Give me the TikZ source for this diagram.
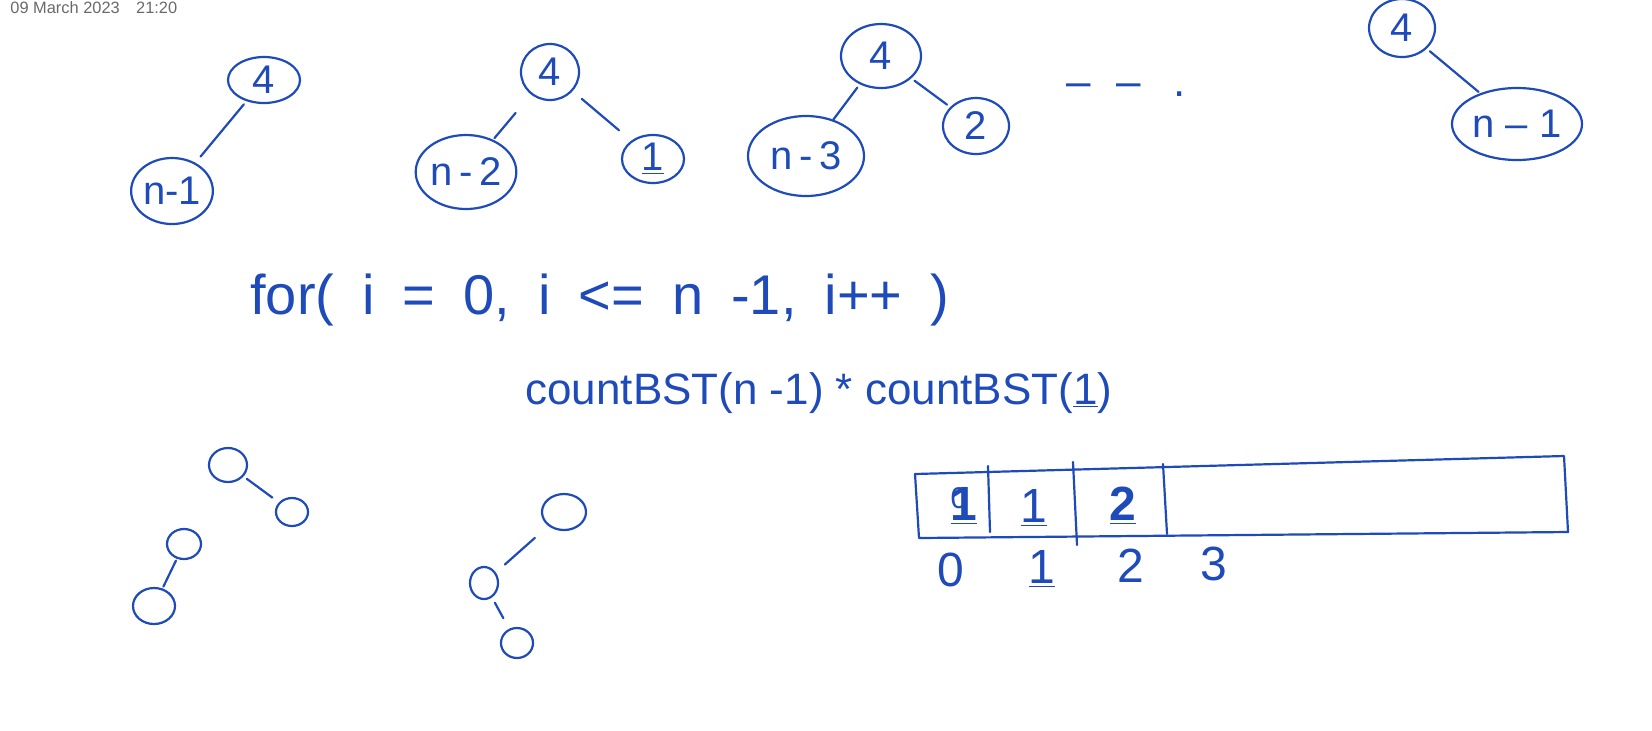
\documentclass[tikz,border=0pt]{standalone}
\usepackage{fontspec}
\setmainfont{Liberation Sans}
\usetikzlibrary{shapes.geometric}
\definecolor{tinta}{RGB}{30,75,185}
\definecolor{sello}{RGB}{105,105,105}
\newcommand{\subr}[1]{\underline{#1}}
\begin{document}
\begin{tikzpicture}[x=0.5pt, y=-0.5pt,
    nodo/.style 2 args={ellipse, draw=tinta, line width=1.1pt, text=tinta, inner sep=0pt,
        minimum width=#1pt, minimum height=#2pt, font=\fontsize{20}{22}\selectfont},
    rama/.style={draw=tinta, line width=1.1pt, line cap=round, shorten <=2pt, shorten >=4pt},
    trazo/.style={draw=tinta, line width=1.1pt, line cap=round, line join=round},
    mano/.style={text=tinta, inner sep=0pt, font=\fontsize{#1}{#1}\selectfont},
    mano/.default=22]
    \useasboundingbox (0,0) rectangle (1652,730);

    % Fecha
    \node[anchor=west, inner sep=0pt, text=sello, font=\fontsize{8.2}{9}\selectfont]
        (fecha) at (10,8) {09 March 2023\hspace{1em}21:20};

    % Arbol 1: raiz con hijo izquierdo n-1
    \node[nodo={36}{23}] (r1) at (264,80) {4};
    \node[nodo={40}{33}] (a1) at (172,191) {n-1};
    \draw[rama] (r1) -- (a1);

    % Arbol 2: n-2 y 1
    \node[nodo={29}{28}] (r2) at (550,72) {4};
    \node[nodo={48}{37}] (a2) at (466,172) {n\,-\,2};
    \node[nodo={31}{24}] (b2) at (653,159) {\subr{1}};
    \draw[rama, shorten <=12pt, shorten >=1pt] (r2) -- (a2);
    \draw[rama, shorten <=6pt, shorten >=8pt] (r2) -- (b2);

    % Arbol 3: n-3 y 2
    \node[nodo={40}{32}] (r3) at (881,56) {4};
    \node[nodo={58}{40}] (a3) at (806,156) {n\,-\,3};
    \node[nodo={33}{28}] (b3) at (976,126) {2};
    \draw[rama, shorten >=0pt] (r3) -- (a3);
    \draw[rama, shorten >=2pt] (r3) -- (b3);

    % Puntos suspensivos
    \node[mano, anchor=west] (pts) at (1066,90) {--\hspace{13pt}--\hspace{16pt}.};

    % Arbol 4: hijo derecho n-1
    \node[nodo={33}{29}] (r4) at (1402,28) {4};
    \node[nodo={65}{36}] (a4) at (1517,124) {n -- 1};
    \draw[rama, shorten >=1pt] (r4) -- (a4);

    % Recurrencia
    \node[mano=28, anchor=base west] (bucle) at (250,314)
        {\spaceskip=0.5em for( i = 0, i <= n -1, i++ )};
    \node[mano=22, anchor=base west] (prod) at (525,404) {countBST(n -1) * countBST(\subr{1})};

    % Arboles de dos nodos
    \node[nodo={19}{17}] (ta) at (228,465) {};
    \node[nodo={16}{14}] (tad) at (292,512) {};
    \draw[rama] (ta) -- (tad);
    \node[nodo={17}{15}] (tb) at (184,544) {};
    \node[nodo={21}{18}] (tbi) at (154,606) {};
    \draw[rama, shorten <=1pt, shorten >=1pt] (tb) -- (tbi);

    % Arbol de tres nodos
    \node[nodo={22}{18}] (tc) at (564,512) {};
    \node[nodo={14}{16}] (tci) at (484,583) {};
    \node[nodo={16}{15}] (tcd) at (517,643) {};
    \draw[rama, shorten <=9pt, shorten >=6pt] (tc) -- (tci);
    \draw[rama, shorten <=3pt, shorten >=6pt] (tci) -- (tcd);

    % Arreglo dp
    \coordinate (p1) at (915,474);
    \coordinate (p2) at (1564,456);
    \coordinate (p3) at (1568,532);
    \coordinate (p4) at (919,538);
    \draw[trazo] (p1) -- (p2) -- (p3) -- (p4) -- cycle;
    \draw[trazo] (988,466) -- (990,532);
    \draw[trazo] (1073,462) -- (1077,545);
    \draw[trazo] (1163,464) -- (1167,534);

    \node[mano=24] (c0) at (964,506) {\rlap{\raisebox{6pt}{\fontsize{15}{15}\selectfont 0}}\textbf{\subr{1}}};
    \node[mano=24] (c1) at (1034,508) {\subr{1}};
    \node[mano=24] (c2) at (1123,506) {\textbf{\subr{2}}};

    % Indices
    \node[mano=24] (i0) at (951,570) {0};
    \node[mano=24] (i1) at (1042,569) {\subr{1}};
    \node[mano=24] (i2) at (1131,566) {2};
    \node[mano=24] (i3) at (1214,564) {3};
\end{tikzpicture}
\end{document}
